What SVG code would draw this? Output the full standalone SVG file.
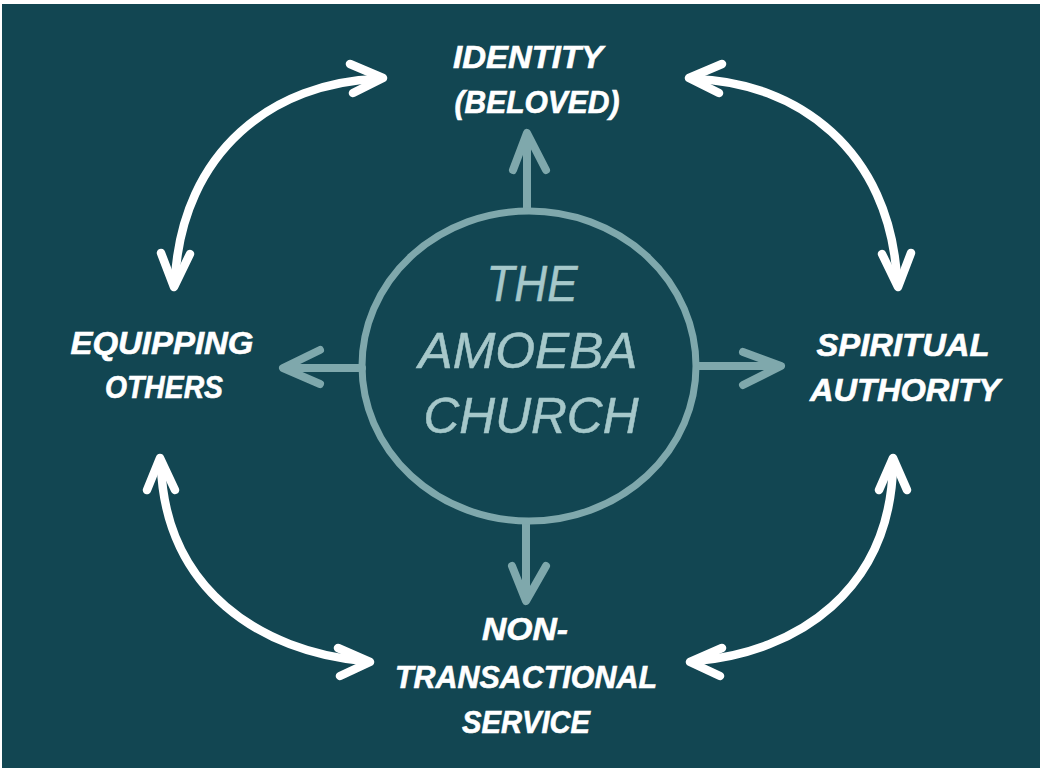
<svg xmlns="http://www.w3.org/2000/svg" width="1040" height="768" viewBox="0 0 1040 768">
<style>
.lbl{font-family:"Liberation Sans",Arial,sans-serif;font-weight:bold;font-style:italic;font-size:31px;fill:#ffffff;stroke:#ffffff;stroke-width:0.6;text-anchor:middle}
.ctr{font-family:"Liberation Sans",Arial,sans-serif;font-style:italic;font-size:50px;fill:#a6c8ca;stroke:#a6c8ca;stroke-width:0.5;text-anchor:middle}
.w{fill:none;stroke:#ffffff;stroke-width:8.5;stroke-linecap:round;stroke-linejoin:round}
.g{fill:none;stroke:#7fa8ac;stroke-width:8;stroke-linecap:round;stroke-linejoin:round}
</style>
<rect x="0" y="0" width="1040" height="768" fill="#ffffff"/>
<rect x="2" y="4" width="1038" height="764" fill="#124652"/>
<g id="connectors">
<path class="g" d="M527,210 L527,134 M513,170 L527,133 L546,170"/>
<path class="g" d="M362,368 L284,368 M320,350 L283,368 L320,384"/>
<path class="g" d="M698,366 L780,366 M743,352 L781,366 L743,385"/>
<path class="g" d="M526,522 L526,600 M512,566 L526,601 L546,566"/>
<path class="w" d="M378,79 C275,82 182,150 175,280"/>
<path class="w" d="M350,64 L383,78 L353,93 M161,253 L174,287 L190,254"/>
<path class="w" d="M694,79 C797,82 890,150 897,280"/>
<path class="w" d="M722,64 L689,78 L719,93 M911,253 L898,287 L882,254"/>
<path class="w" d="M364,661 C262,652 165,590 161,465"/>
<path class="w" d="M338,648 L370,662 L340,676 M147,490 L160,458 L175,490"/>
<path class="w" d="M696,661 C798,652 890,590 893,465"/>
<path class="w" d="M722,648 L690,662 L720,676 M879,490 L893,458 L907,490"/>
</g>
<g id="center">
<ellipse cx="529" cy="366" rx="167" ry="155" fill="none" stroke="#7fa8ac" stroke-width="7"/>
<text class="ctr" x="532" y="301" textLength="91" lengthAdjust="spacingAndGlyphs">THE</text>
<text class="ctr" x="528" y="368" textLength="219" lengthAdjust="spacingAndGlyphs">AMOEBA</text>
<text class="ctr" x="531" y="433" textLength="215" lengthAdjust="spacingAndGlyphs">CHURCH</text>
</g>
<g id="identity">
<text class="lbl" x="528" y="68" textLength="150" lengthAdjust="spacingAndGlyphs">IDENTITY</text>
<text class="lbl" x="537" y="113" textLength="165" lengthAdjust="spacingAndGlyphs">(BELOVED)</text>
</g>
<g id="equipping">
<text class="lbl" x="162" y="354" textLength="183" lengthAdjust="spacingAndGlyphs">EQUIPPING</text>
<text class="lbl" x="164" y="398" textLength="118" lengthAdjust="spacingAndGlyphs">OTHERS</text>
</g>
<g id="spiritual">
<text class="lbl" x="903" y="356" textLength="173" lengthAdjust="spacingAndGlyphs">SPIRITUAL</text>
<text class="lbl" x="905" y="401" textLength="190" lengthAdjust="spacingAndGlyphs">AUTHORITY</text>
</g>
<g id="service">
<text class="lbl" x="525" y="640" textLength="86" lengthAdjust="spacingAndGlyphs">NON-</text>
<text class="lbl" x="526" y="688" textLength="262" lengthAdjust="spacingAndGlyphs">TRANSACTIONAL</text>
<text class="lbl" x="526" y="733" textLength="128" lengthAdjust="spacingAndGlyphs">SERVICE</text>
</g>
</svg>
